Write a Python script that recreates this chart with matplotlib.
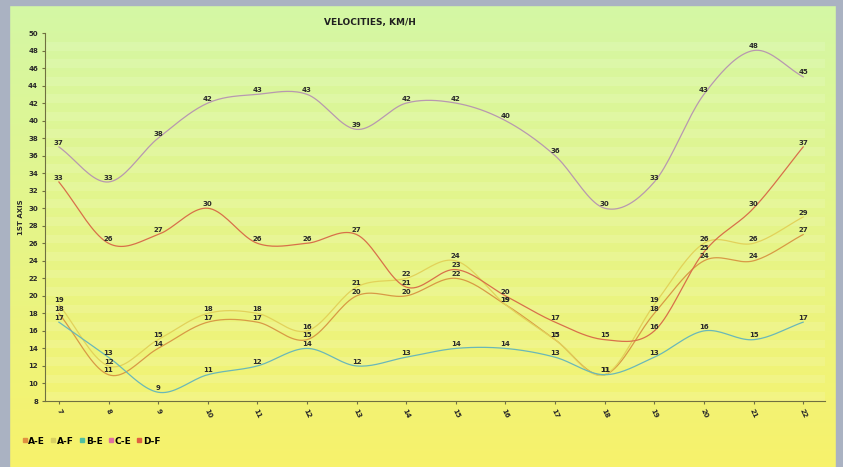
import numpy as np
import matplotlib
matplotlib.use("Agg")
import matplotlib.pyplot as plt
from matplotlib.lines import Line2D

hours = [7, 8, 9, 10, 11, 12, 13, 14, 15, 16, 17, 18, 19, 20, 21, 22]
series_names = ["A-E", "A-F", "B-E", "C-E", "D-F"]
a_e = [18, 11, 14, 17, 17, 15, 20, 20, 22, 19, 15, 11, 18, 24, 24, 27]
a_f = [19, 12, 15, 18, 18, 16, 21, 22, 24, 19, 15, 11, 19, 26, 26, 29]
b_e = [17, 13, 9, 11, 12, 14, 12, 13, 14, 14, 13, 11, 13, 16, 15, 17]
c_e = [37, 33, 38, 42, 43, 43, 39, 42, 42, 40, 36, 30, 33, 43, 48, 45]
d_f = [33, 26, 27, 30, 26, 26, 27, 21, 23, 20, 17, 15, 16, 25, 30, 37]
series_vals = [a_e, a_f, b_e, c_e, d_f]
colors = ["#d89a45", "#e2d25a", "#6ab8b8", "#b898b0", "#d8704a"]
legend_colors = ["#e09040", "#d8d060", "#50c0a0", "#e070a0", "#e06040"]
y_ticks = list(range(8, 51, 2))


def catmull(x, y, n=20):
    x = np.asarray(x, float); y = np.asarray(y, float)
    px = np.concatenate([[2 * x[0] - x[1]], x, [2 * x[-1] - x[-2]]])
    py = np.concatenate([[2 * y[0] - y[1]], y, [2 * y[-1] - y[-2]]])
    xs, ys = [], []
    t = np.linspace(0, 1, n, endpoint=False)
    for i in range(1, len(px) - 2):
        p0, p1, p2, p3 = py[i - 1], py[i], py[i + 1], py[i + 2]
        q0, q1, q2, q3 = px[i - 1], px[i], px[i + 1], px[i + 2]
        f = lambda a0, a1, a2, a3: 0.5 * ((2 * a1) + (-a0 + a2) * t + (2 * a0 - 5 * a1 + 4 * a2 - a3) * t ** 2 + (-a0 + 3 * a1 - 3 * a2 + a3) * t ** 3)
        xs.append(f(q0, q1, q2, q3)); ys.append(f(p0, p1, p2, p3))
    xs.append([x[-1]]); ys.append([y[-1]])
    return np.concatenate(xs), np.concatenate(ys)


fig = plt.figure(figsize=(8.43, 4.67), dpi=100)

# background gradient
bg = fig.add_axes([0, 0, 1, 1], zorder=-10)
grad = np.linspace(0, 1, 256)[:, None]
c_top = np.array([0.83, 0.97, 0.65])
c_bot = np.array([0.97, 0.95, 0.42])
img = c_top[None, None, :] * (1 - grad[:, :, None]) + c_bot[None, None, :] * grad[:, :, None]
bg.imshow(img, aspect="auto", extent=[0, 1, 0, 1])
# window frame
bg.axvspan(0, 9 / 843, color="#aab2c2")
bg.axvspan(836 / 843, 1, color="#aab2c2")
bg.axhspan(1 - 5 / 467, 1, color="#aab2c2")
bg.set_xlim(0, 1); bg.set_ylim(0, 1)
bg.axis("off")

ax = fig.add_axes([45 / 843, 66 / 467, 780 / 843, 368 / 467])
ax.set_facecolor("none")
ax.set_xlim(6.72, 22.44)
ax.set_ylim(8, 50)

for k, yy in enumerate(range(8, 50, 1)):
    if k % 2 == 0:
        ax.axhspan(yy, yy + 1, color="white", alpha=0.12, lw=0, zorder=0)

for vals, col in zip(series_vals, colors):
    sx, sy = catmull(hours, vals)
    ax.plot(sx, sy, color=col, lw=0.9, zorder=3)
    for h, v in zip(hours, vals):
        ax.text(h, v + 0.15, str(v), ha="center", va="bottom", fontsize=5,
                fontweight="bold", color="#2a2a2a", zorder=5)

for s in ["top", "right"]:
    ax.spines[s].set_visible(False)
for s in ["left", "bottom"]:
    ax.spines[s].set_color("#707040")
    ax.spines[s].set_linewidth(0.8)
ax.set_yticks(y_ticks)
ax.set_yticklabels([str(v) for v in y_ticks], fontsize=5, fontweight="bold", color="#2a2a2a")
ax.set_xticks(hours)
ax.set_xticklabels([str(h) for h in hours], fontsize=5, fontweight="bold", rotation=-65, color="#2a2a2a")
ax.tick_params(length=2, color="#707040", pad=3)
ax.set_ylabel("1ST AXIS", fontsize=5, fontweight="bold", labelpad=3, color="#2a2a2a")
fig.text(370 / 843, 1 - 22 / 467, "VELOCITIES, KM/H", ha="center", va="center",
         fontsize=6.5, fontweight="bold", color="#202020")

handles = [Line2D([], [], marker="s", ls="none", color=c, markersize=3) for c in legend_colors]
fig.legend(handles, series_names, loc="center left", bbox_to_anchor=(14 / 843, 1 - 441 / 467),
           ncol=5, frameon=False, handletextpad=0.1, columnspacing=0.6,
           handlelength=0.6, prop={"weight": "bold", "size": 6.5})

fig.savefig("out.png", dpi=100)
